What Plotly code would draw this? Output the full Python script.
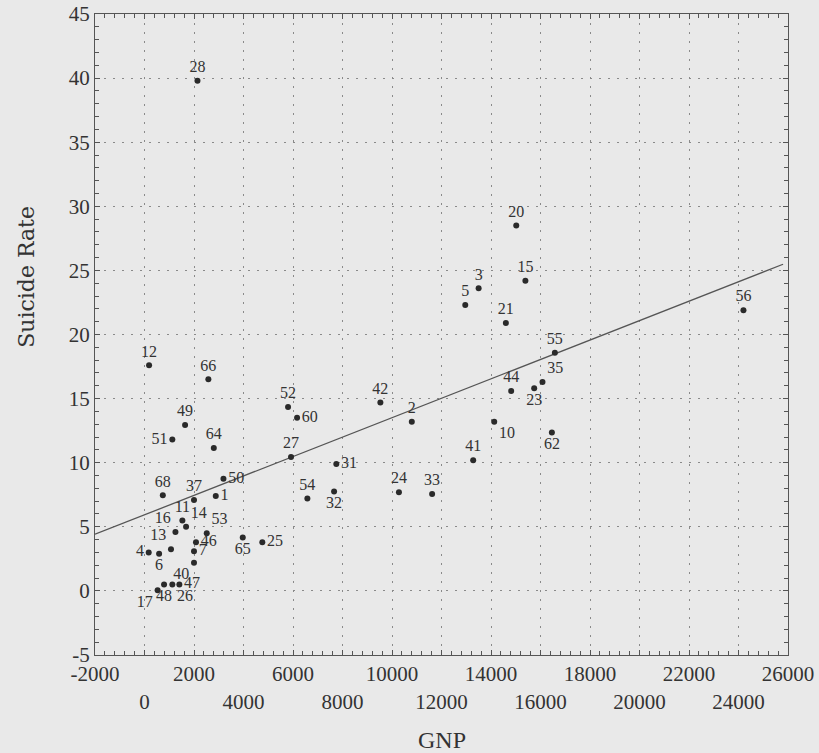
import plotly.graph_objects as go

# Country ids, GNP per capita, suicide rate
ids = [1, 2, 3, 4, 5, 6, 7, 10, 11, 12, 13, 14, 15, 16, 17, 20, 21, 23, 24, 25,
       26, 27, 28, 31, 32, 33, 35, 37, 40, 41, 42, 44, 46, 47, 48, 49, 50, 51,
       52, 53, 54, 55, 56, 60, 62, 64, 65, 66, 68]
gnp = [2880, 10800, 13500, 170, 12960, 590, 2000, 14130, 1530, 185, 1070, 1680,
       15390, 1250, 530, 15020, 14600, 15745, 10280, 4760,
       1125, 5920, 2140, 7750, 7660, 11620, 16080, 2000, 2000, 13280, 9530,
       14815, 2080, 1408, 790, 1640, 3190, 1125,
       5800, 2515, 6580, 16580, 24200, 6165, 16460, 2800, 3970, 2580, 740]
rate = [7.4, 13.2, 23.6, 3.0, 22.3, 2.9, 3.1, 13.2, 5.5, 17.6, 3.25, 5.0,
        24.2, 4.6, 0.05, 28.5, 20.9, 15.8, 7.7, 3.8,
        0.5, 10.45, 39.8, 9.9, 7.75, 7.55, 16.3, 7.1, 2.2, 10.2, 14.7,
        15.6, 3.8, 0.5, 0.5, 12.95, 8.75, 11.8,
        14.35, 4.5, 7.2, 18.57, 21.9, 13.5, 12.35, 11.15, 4.16, 16.5, 7.46]

# Regression line end points
line_gnp = [-2000, 25800]
line_rate = [4.42, 25.48]

# X tick values and labels (labels alternate between two rows)
x_tickvals = list(range(-2000, 26001, 2000))
x_ticklabels = ["-2000", "<br>0", "2000", "<br>4000", "6000", "<br>8000",
                "10000", "<br>12000", "14000", "<br>16000", "18000",
                "<br>20000", "22000", "<br>24000", "26000"]
y_tickvals = [-5, 0, 5, 10, 15, 20, 25, 30, 35, 40, 45]
y_ticklabels = ["-5", "0", "5", "10", "15", "20", "25", "30", "35", "40", "45"]

# label placement (style)
pos = {
    1: "middle right", 4: "middle left", 6: "bottom center", 7: "middle right",
    10: "bottom right", 13: "top left", 14: "top right", 16: "top left",
    17: "bottom left", 23: "bottom center", 25: "middle right",
    26: "bottom right", 31: "middle right", 32: "bottom center",
    35: "top right", 40: "bottom left", 46: "middle right",
    47: "middle right", 48: "bottom center", 50: "middle right",
    51: "middle left", 53: "top right", 60: "middle right",
    62: "bottom center", 65: "bottom center",
}
textpos = [pos.get(i, "top center") for i in ids]

FONT = "Liberation Serif, Times New Roman, serif"
WIDE = "DejaVu Serif, serif"
INK = "#333333"
BG = "#e9e9e9"

fig = go.Figure()
fig.add_trace(go.Scatter(
    x=line_gnp, y=line_rate, mode="lines",
    line=dict(color="#555555", width=1.3), hoverinfo="skip", showlegend=False))
fig.add_trace(go.Scatter(
    x=gnp, y=rate, mode="markers+text", text=[str(i) for i in ids],
    textposition=textpos,
    textfont=dict(family=FONT, size=16, color=INK),
    marker=dict(color="#2a2a2a", size=6), showlegend=False))

axis_common = dict(
    showline=True, linecolor="#555555", linewidth=1, mirror="ticks",
    ticks="inside", ticklen=5, tickcolor="#555555",
    showgrid=True, gridcolor="#8a8a8a", gridwidth=1, griddash="2px,7px",
    zeroline=False, tickfont=dict(family=FONT, size=21, color=INK),
    automargin=False, tickangle=0,
)

fig.update_xaxes(range=[-2000, 26000], tickvals=x_tickvals,
                 ticktext=x_ticklabels,
                 minor=dict(dtick=400, ticks="inside", ticklen=4,
                            tickcolor="#555555", showgrid=False),
                 **axis_common)
fig.update_yaxes(range=[-5, 45], tickvals=y_tickvals,
                 ticktext=y_ticklabels,
                 minor=dict(dtick=1, ticks="inside", ticklen=4,
                            tickcolor="#555555", showgrid=False),
                 **axis_common)

fig.add_annotation(text="Suicide Rate", xref="paper", yref="paper",
                   x=0, y=0.59, xshift=-68, textangle=-90, showarrow=False,
                   xanchor="center", yanchor="middle",
                   font=dict(family=WIDE, size=22, color=INK))
fig.add_annotation(text="GNP", xref="paper", yref="paper",
                   x=0.5, y=0, yshift=-85, showarrow=False,
                   xanchor="center", yanchor="middle",
                   font=dict(family=FONT, size=24, color=INK))

fig.update_layout(
    width=819, height=753,
    margin=dict(l=95, r=31, t=14, b=98, autoexpand=False),
    paper_bgcolor=BG, plot_bgcolor=BG,
    font=dict(family=FONT, color=INK),
)

fig.write_html(
    "out.html",
    config={"displayModeBar": False},
    post_script="document.body.style.margin='0';"
                "document.body.style.overflow='hidden';"
                "document.body.style.background='%s';" % BG,
)
